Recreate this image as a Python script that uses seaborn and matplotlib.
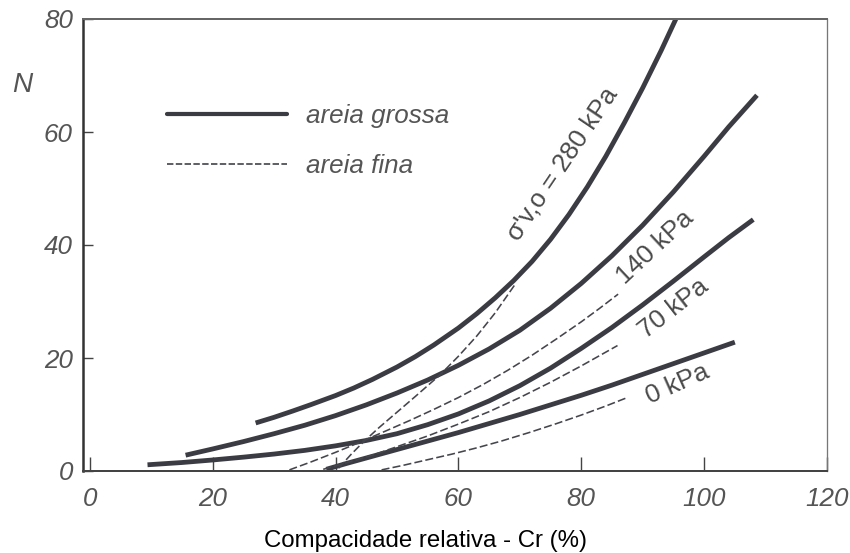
import matplotlib
matplotlib.use("Agg")
import matplotlib.pyplot as plt
from matplotlib.lines import Line2D
import seaborn as sns

# Relative density (Cr, %) vs. SPT blow count (N) for different effective vertical stresses
# coarse sand
cr_280 = [27, 30, 33, 36, 40, 43, 46, 50, 53, 56, 60, 63, 66, 69, 72, 75, 78, 81, 84, 87, 90, 93, 95.4]
n_280 = [8.5, 9.5, 10.6, 11.75, 13.35, 14.7, 16.2, 18.4, 20.25, 22.3, 25.3, 27.85, 30.65,
         33.7, 37.1, 41.0, 45.4, 50.3, 55.7, 61.6, 67.8, 74.4, 80]

cr_140 = [15.6, 20, 25, 30, 35, 40, 45, 50, 55, 60, 65, 70, 75, 80, 85, 90, 95, 100, 104, 108.6]
n_140 = [2.8, 3.9, 5.2, 6.6, 8.1, 9.8, 11.7, 13.8, 16.1, 18.7, 21.6, 24.9, 28.8, 33.2,
         38.1, 43.5, 49.4, 55.7, 60.9, 66.5]

cr_70 = [9.4, 15, 20, 25, 30, 35, 40, 45, 50, 55, 60, 65, 70, 75, 80, 85, 90, 95, 100, 104, 108]
n_70 = [1.1, 1.5, 1.95, 2.45, 3.0, 3.65, 4.45, 5.4, 6.6, 8.2, 10.1, 12.4, 15.1, 18.2,
        21.7, 25.4, 29.4, 33.6, 37.9, 41.3, 44.5]

cr_0 = [38.5, 42, 46, 50, 55, 60, 65, 70, 75, 80, 85, 90, 95, 100, 105]
n_0 = [0.3, 1.4, 2.6, 3.8, 5.3, 6.8, 8.4, 10.0, 11.7, 13.4, 15.2, 17.1, 19.0, 20.9, 22.8]

# fine sand
cr_280f = [40.5, 42.5, 44.5, 47, 50, 53, 57, 60, 63, 66, 69.4]
n_280f = [0.5, 2.9, 5.1, 7.6, 10.4, 13.2, 17.0, 20.3, 23.9, 28.0, 33.3]

cr_140f = [32.5, 36, 40, 44, 48, 52, 56, 60, 64, 68, 72, 76, 80, 83, 86]
n_140f = [0.2, 1.6, 3.3, 5.1, 7.0, 8.9, 10.9, 13.0, 15.3, 17.8, 20.5, 23.4, 26.4, 28.8, 31.3]

cr_70f = [38, 42, 46, 50, 55, 60, 65, 70, 75, 80, 85.9]
n_70f = [0.3, 1.5, 2.8, 4.3, 6.2, 8.3, 10.5, 13.0, 15.7, 18.6, 22.2]

cr_0f = [47.5, 51, 55, 59, 63, 67, 71.5, 76, 80, 84, 87.5]
n_0f = [0.2, 1.0, 2.0, 3.0, 4.1, 5.3, 6.8, 8.4, 9.9, 11.5, 13.0]

x_ticks = [0, 20, 40, 60, 80, 100, 120]
y_ticks = [0, 20, 40, 60, 80]

curve_labels = ["σ'v,o = 280 kPa", "140 kPa", "70 kPa", "0 kPa"]
label_x = [76.9, 92.0, 95.1, 95.6]
label_y = [54.4, 39.6, 28.8, 15.4]
label_rot = [56, 43, 38, 24]

legend_labels = ["areia grossa", "areia fina"]

sns.set_style("ticks")
plt.rcParams["font.family"] = ["Liberation Sans", "DejaVu Sans"]

LINE = "#3b3b44"
TEXT = "#555555"

fig = plt.figure(figsize=(850 / 72, 553 / 72), dpi=72)
ax = fig.add_axes([83 / 850, 1 - 471 / 553, 744 / 850, 452 / 553])

for cx, ny in [(cr_280, n_280), (cr_140, n_140), (cr_70, n_70), (cr_0, n_0)]:
    sns.lineplot(x=cx, y=ny, ax=ax, color=LINE, lw=4.8, sort=False,
                 estimator=None, solid_capstyle="butt", solid_joinstyle="round")

for cx, ny in [(cr_280f, n_280f), (cr_140f, n_140f), (cr_70f, n_70f), (cr_0f, n_0f)]:
    sns.lineplot(x=cx, y=ny, ax=ax, color="#45454d", lw=1.6, sort=False,
                 estimator=None, linestyle=(0, (5, 2)))

ax.set_xlim(-1.1, 119.8)
ax.set_ylim(0, 80)
ax.set_xticks(x_ticks)
ax.set_xticklabels([str(v) for v in x_ticks], fontstyle="italic", fontsize=26, color=TEXT)
ax.set_yticks(y_ticks)
ax.set_yticklabels([str(v) for v in y_ticks], fontstyle="italic", fontsize=26, color=TEXT)
ax.tick_params(axis="x", direction="in", length=14, width=1.4, pad=16, color="#444")
ax.tick_params(axis="y", direction="in", length=10, width=1.4, pad=10, color="#444")

ax.spines["left"].set(linewidth=2.5, color="#333")
ax.spines["bottom"].set(linewidth=2.0, color="#444")
ax.spines["top"].set(linewidth=2.0, color="#666")
ax.spines["right"].set(linewidth=1.3, color="#777")

ax.set_xlabel("Compacidade relativa - Cr (%)", fontsize=24, color="black")
ax.xaxis.set_label_coords(0.46, -0.155)
ax.xaxis.label.set_va("center")
ax.set_ylabel("N", rotation=0, fontsize=28, fontstyle="italic", color=TEXT)
ax.yaxis.set_label_coords(-0.081, 0.854)
ax.yaxis.label.set_va("center")
ax.yaxis.label.set_ha("center")

for txt, tx, ty, rot in zip(curve_labels, label_x, label_y, label_rot):
    ax.text(tx, ty, txt, rotation=rot, rotation_mode="anchor", ha="center",
            va="center", fontsize=26, color="#4a4a4a")

handles = [Line2D([], [], color=LINE, lw=4.2),
           Line2D([], [], color=LINE, lw=1.6, linestyle=(0, (4, 1.5)))]
leg = ax.legend(handles, legend_labels, loc="upper left",
                bbox_to_anchor=(0.113, 0.812), frameon=False, borderpad=0,
                borderaxespad=0, handlelength=4.6, handletextpad=0.75,
                labelspacing=1.0, prop={"size": 26, "style": "italic"})
for t in leg.get_texts():
    t.set_color(TEXT)

fig.savefig("out.png", dpi=72)
